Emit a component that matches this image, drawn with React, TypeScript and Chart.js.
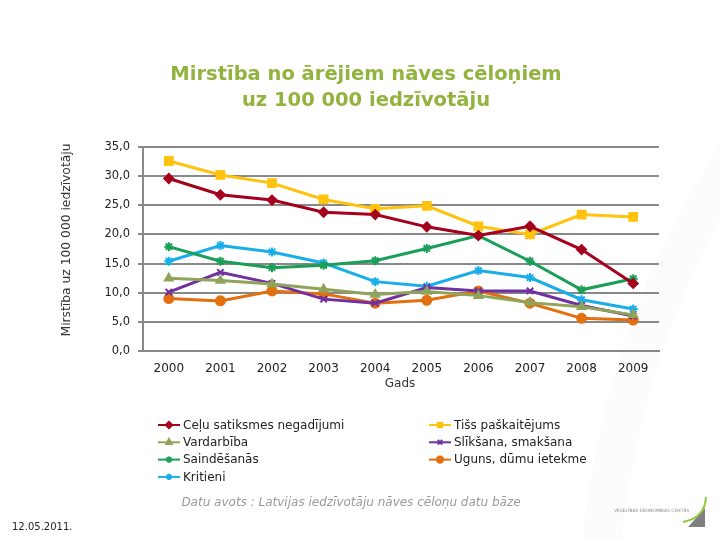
import React, { useEffect, useRef } from 'react';
import { Chart, registerables } from 'chart.js';
import { drawPoint } from 'chart.js/helpers';

Chart.register(...registerables);

const years = ['2000', '2001', '2002', '2003', '2004', '2005', '2006', '2007', '2008', '2009'];
const celuSatiksmes = [29.6, 26.8, 25.9, 23.8, 23.4, 21.3, 19.8, 21.4, 17.4, 11.6];
const tissPaskaitejums = [32.6, 30.2, 28.8, 26.0, 24.4, 24.9, 21.4, 20.0, 23.4, 23.0];
const vardarbiba = [12.5, 12.1, 11.5, 10.6, 9.7, 10.2, 9.5, 8.3, 7.6, 6.2];
const slikSana = [10.1, 13.5, 11.6, 8.9, 8.2, 10.9, 10.3, 10.3, 7.8, 6.0];
const saindesanas = [17.9, 15.4, 14.3, 14.7, 15.5, 17.6, 19.8, 15.4, 10.5, 12.4];
const uguns = [9.0, 8.6, 10.3, 9.8, 8.2, 8.7, 10.3, 8.2, 5.6, 5.3];
const kritieni = [15.4, 18.1, 17.0, 15.1, 11.9, 11.1, 13.8, 12.6, 8.8, 7.2];

const titleLines = ['Mirstība no ārējiem nāves cēloņiem', 'uz 100 000 iedzīvotāju'];
const yAxisTitle = 'Mirstība uz 100 000 iedzīvotāju';
const xAxisTitle = 'Gads';
const sourceText = 'Datu avots : Latvijas iedzīvotāju nāves cēloņu datu bāze';
const dateText = '12.05.2011.';
const logoText = 'VESELĪBAS EKONOMIKAS CENTRS';

const FONT = '"DejaVu Sans", Verdana, sans-serif';

function ds(label: string, data: number[], color: string, pointStyle: any, radius = 4.5) {
  return {
    label,
    data,
    borderColor: color,
    backgroundColor: color,
    pointBackgroundColor: color,
    pointBorderColor: color,
    pointStyle,
    pointRadius: radius,
    pointBorderWidth: 2,
    borderWidth: 3,
    tension: 0,
    fill: false,
  };
}

const decorPlugin = {
  id: 'decor',
  beforeDraw(chart: any) {
    const ctx = chart.ctx as CanvasRenderingContext2D;
    ctx.save();
    ctx.fillStyle = '#ffffff';
    ctx.fillRect(0, 0, chart.width, chart.height);
    // very faint background swoosh
    ctx.strokeStyle = 'rgba(0,0,0,0.012)';
    ctx.lineWidth = 40;
    ctx.beginPath();
    ctx.moveTo(740, 150);
    ctx.quadraticCurveTo(620, 330, 600, 560);
    ctx.stroke();
    ctx.restore();
  },
  afterDraw(chart: any) {
    const ctx = chart.ctx as CanvasRenderingContext2D;
    ctx.save();
    // Title
    ctx.fillStyle = '#93B33F';
    ctx.font = `bold 19.5px ${FONT}`;
    ctx.textAlign = 'center';
    ctx.textBaseline = 'middle';
    ctx.fillText(titleLines[0], 366, 75);
    ctx.fillText(titleLines[1], 366, 101);

    // Y axis title
    ctx.save();
    ctx.translate(67, 240);
    ctx.rotate(-Math.PI / 2);
    ctx.fillStyle = '#333333';
    ctx.font = `12.3px ${FONT}`;
    ctx.fillText(yAxisTitle, 0, 0);
    ctx.restore();

    // X axis title
    ctx.fillStyle = '#333333';
    ctx.font = `12px ${FONT}`;
    ctx.fillText(xAxisTitle, 400, 384);

    // Legend
    ctx.textAlign = 'left';
    ctx.font = `12px ${FONT}`;
    const colX = [164, 435];
    const rowY0 = 425;
    const rowH = 17.3;
    chart.data.datasets.forEach((d: any, i: number) => {
      const col = i % 2;
      const row = Math.floor(i / 2);
      const x = colX[col];
      const y = rowY0 + row * rowH;
      ctx.strokeStyle = d.borderColor;
      ctx.lineWidth = 2;
      ctx.beginPath();
      ctx.moveTo(x - 6, y);
      ctx.lineTo(x + 16, y);
      ctx.stroke();
      ctx.fillStyle = d.borderColor;
      drawPoint(ctx, { pointStyle: d.pointStyle, radius: 3.2, borderWidth: 1.5, rotation: 0 } as any, x + 5, y);
      ctx.fillStyle = '#222222';
      ctx.fillText(d.label, x + 19, y + 0.5);
    });

    // Source text
    ctx.textAlign = 'center';
    ctx.fillStyle = '#9a9a9a';
    ctx.font = `italic 12px ${FONT}`;
    ctx.fillText(sourceText, 351, 503);

    // Date
    ctx.textAlign = 'left';
    ctx.fillStyle = '#222222';
    ctx.font = `10px ${FONT}`;
    ctx.fillText(dateText, 12, 527);

    // Logo
    ctx.fillStyle = '#8a8a8a';
    ctx.font = `4.5px ${FONT}`;
    ctx.fillText(logoText, 614, 511);
    ctx.fillStyle = '#7f7f7f';
    ctx.beginPath();
    ctx.moveTo(705, 508);
    ctx.lineTo(705, 527);
    ctx.lineTo(688, 527);
    ctx.closePath();
    ctx.fill();
    ctx.strokeStyle = '#8DC63F';
    ctx.lineWidth = 2;
    ctx.beginPath();
    ctx.moveTo(706, 497);
    ctx.quadraticCurveTo(705, 518, 683, 522);
    ctx.stroke();
    ctx.restore();
  },
};

export default function App() {
  const ref = useRef<HTMLCanvasElement>(null);
  useEffect(() => {
    if (!ref.current) return;
    const chart = new Chart(ref.current, {
      type: 'line',
      data: {
        labels: years,
        datasets: [
          ds('Ceļu satiksmes negadījumi', celuSatiksmes, '#A5001E', 'rectRot', 4.5),
          ds('Tišs paškaitējums', tissPaskaitejums, '#FFC20E', 'rect', 5.5),
          ds('Vardarbība', vardarbiba, '#8FA45A', 'triangle', 4.5),
          ds('Slīkšana, smakšana', slikSana, '#7030A0', 'crossRot', 4.5),
          ds('Saindēšanās', saindesanas, '#1A9E58', 'star', 4.5),
          ds('Uguns, dūmu ietekme', uguns, '#E2700F', 'circle', 4.5),
          ds('Kritieni', kritieni, '#1AAEE8', 'star', 4.5),
        ],
      },
      options: {
        responsive: false,
        animation: false,
        layout: { padding: { left: 80, right: 61, top: 147, bottom: 149 } },
        plugins: {
          legend: { display: false },
          title: { display: false },
          tooltip: { enabled: false },
        },
        scales: {
          x: {
            type: 'category',
            offset: true,
            grid: { display: false, drawTicks: false },
            border: { display: true, color: '#888888', width: 2 },
            ticks: { color: '#222222', font: { family: FONT, size: 12 }, padding: 11, maxRotation: 0 },
            afterFit: (s: any) => { s.height = 40; },
          },
          y: {
            min: 0,
            max: 35,
            ticks: {
              stepSize: 5,
              color: '#222222',
              font: { family: FONT, size: 11.5 },
              padding: 8,
              callback: (v: any) => Number(v).toFixed(1).replace('.', ','),
            },
            grid: { color: '#888888', lineWidth: 2, tickLength: 5, drawTicks: true },
            border: { display: true, color: '#888888', width: 2 },
            afterFit: (s: any) => { s.width = 63; },
          },
        },
      },
      plugins: [decorPlugin],
    });
    return () => chart.destroy();
  }, []);
  return (
    <div style={{ position: 'absolute', left: 0, top: 0, width: 720, height: 540 }}>
      <canvas ref={ref} width={720} height={540} style={{ display: 'block', width: 720, height: 540 }} />
    </div>
  );
}
